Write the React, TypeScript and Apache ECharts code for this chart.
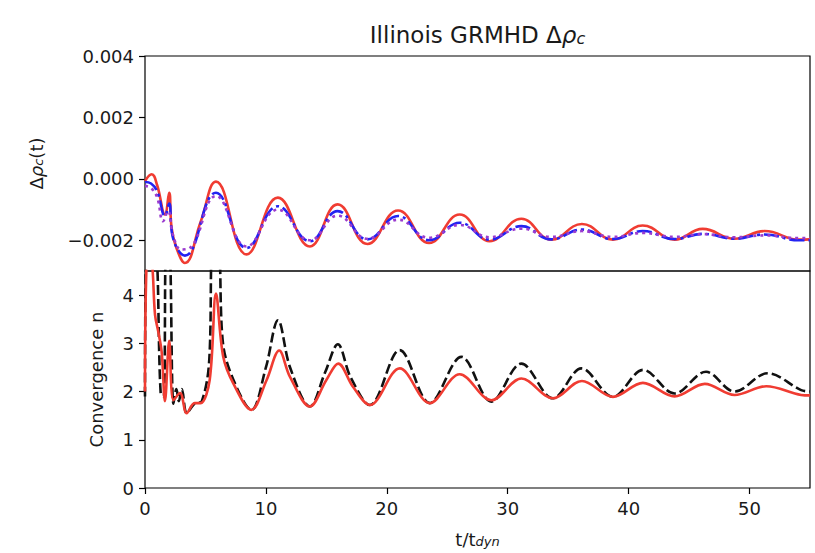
import React, { useEffect, useRef } from "react";
import * as echarts from "echarts";

// ---------- tick values ----------
const xTicks = [0, 10, 20, 30, 40, 50];
const topYTicks = [-0.002, 0, 0.002, 0.004];
const bottomYTicks = [0, 1, 2, 3, 4];

// ---------- top panel: Δρc(t) ----------
const redTopT = [0, 0.55, 1.0, 1.65, 2.0, 2.2, 2.6, 3.3, 4.6, 5.87, 8.4, 10.99, 13.64, 15.93, 18.4, 20.93, 23.5, 26.03, 28.5, 31.13, 33.6, 36.14, 38.7, 41.16, 43.8, 46.12, 48.76, 51.24, 54.1, 55];
const redTopV = [-0.00007, 0.00015, -0.0002, -0.00116, -0.00045, -0.0016, -0.00225, -0.00274, -0.0014, -0.00009, -0.00246, -0.00061, -0.0022, -0.00083, -0.00212, -0.00103, -0.00209, -0.00116, -0.00203, -0.0013, -0.00198, -0.00147, -0.00198, -0.00152, -0.00198, -0.00163, -0.00195, -0.0017, -0.00198, -0.00197];

const blueTopT = [0, 0.5, 1.0, 1.65, 2.0, 2.3, 3.3, 5.87, 8.4, 10.99, 13.64, 15.93, 18.4, 20.93, 23.5, 26.03, 28.5, 31.13, 33.6, 36.14, 38.7, 41.16, 43.8, 46.12, 48.76, 51.24, 54.1, 55];
const blueTopV = [-0.0001, -0.00015, -0.0004, -0.0012, -0.0008, -0.0019, -0.0025, -0.00045, -0.00225, -0.00089, -0.00203, -0.00105, -0.00197, -0.00121, -0.002, -0.00143, -0.00198, -0.00154, -0.00197, -0.00165, -0.00196, -0.0017, -0.00196, -0.00179, -0.00195, -0.00181, -0.002, -0.002];

const purpleTopT = [0, 0.5, 1.0, 1.5, 1.9, 2.35, 3.0, 3.7, 5.87, 8.4, 10.99, 13.64, 15.93, 18.4, 20.93, 23.5, 26.03, 28.5, 31.13, 33.6, 36.14, 38.7, 41.16, 43.8, 46.12, 48.76, 51.24, 54.1, 55];
const purpleTopV = [-0.00023, -0.0003, -0.0006, -0.00138, -0.00105, -0.00187, -0.0023, -0.00225, -0.00056, -0.0022, -0.001, -0.002, -0.0012, -0.00195, -0.00133, -0.00192, -0.0015, -0.0019, -0.00162, -0.00189, -0.0017, -0.00189, -0.00176, -0.00189, -0.0018, -0.0019, -0.00184, -0.00193, -0.00193];

// ---------- bottom panel: convergence order n ----------
const redBotT = [0, 0.15, 0.45, 0.64, 0.83, 1.1, 1.38, 1.65, 2.0, 2.35, 2.9, 3.45, 4.1, 4.6, 5.35, 5.87, 6.47, 7.3, 8.8, 10.06, 11.1, 11.98, 13.64, 15.0, 15.98, 17.2, 18.6, 21.07, 23.55, 26.03, 28.65, 31.13, 33.74, 36.14, 38.7, 41.18, 43.8, 46.3, 48.76, 51.38, 54.27, 55];
const redBotV = [2.0, 4.8, 5.0, 4.48, 3.59, 3.24, 2.82, 1.8, 3.05, 1.82, 1.97, 1.55, 1.76, 1.76, 2.24, 4.03, 2.72, 2.17, 1.62, 2.24, 2.85, 2.31, 1.69, 2.24, 2.58, 2.1, 1.72, 2.48, 1.76, 2.36, 1.82, 2.27, 1.86, 2.22, 1.89, 2.18, 1.9, 2.16, 1.93, 2.11, 1.93, 1.92];

const blackBotT = [0, 0.15, 0.8, 1.3, 1.55, 1.75, 2.0, 2.35, 2.6, 2.8, 3.05, 3.45, 4.1, 4.7, 5.3, 5.6, 6.05, 6.45, 7.3, 8.8, 10.0, 11.0, 12.0, 13.64, 14.9, 15.95, 17.0, 18.6, 21.07, 23.55, 26.17, 28.65, 31.13, 33.74, 36.1, 38.7, 41.2, 43.8, 46.4, 48.76, 51.5, 54.27, 55];
const blackBotV = [1.9, 5.0, 5.0, 1.95, 1.9, 5.0, 5.0, 1.75, 2.05, 1.8, 2.05, 1.55, 1.75, 1.8, 2.6, 5.0, 5.0, 3.0, 2.25, 1.62, 2.5, 3.48, 2.5, 1.69, 2.4, 2.98, 2.3, 1.72, 2.86, 1.76, 2.72, 1.79, 2.58, 1.86, 2.48, 1.89, 2.45, 1.96, 2.41, 2.0, 2.38, 2.03, 2.0];

const pairs = (t: number[], v: number[]) => t.map((x, i) => [x, v[i]]);

const FONT = "DejaVu Sans";
const TXT = "#1a1a1a";

export default function App() {
  const ref = useRef<HTMLDivElement>(null);

  useEffect(() => {
    document.body.style.margin = "0";
    const chart = echarts.init(ref.current as HTMLDivElement, null, { renderer: "svg" });

    const tickStyle = { color: "#000", width: 1.2 };
    const labelBase = { fontFamily: FONT, fontSize: 18, color: TXT };

    const option: any = {
      animation: false,
      backgroundColor: "#ffffff",
      textStyle: { fontFamily: FONT },
      graphic: [
        {
          type: "text",
          x: 477.5,
          y: 33,
          style: {
            text: "{n|Illinois GRMHD Δ}{i|ρ}{s|c}",
            align: "center",
            verticalAlign: "middle",
            fill: TXT,
            rich: {
              n: { fontFamily: FONT, fontSize: 23, lineHeight: 26, verticalAlign: "bottom", fill: TXT },
              i: { fontFamily: FONT, fontSize: 23, fontStyle: "italic", lineHeight: 26, verticalAlign: "bottom", fill: TXT },
              s: { fontFamily: FONT, fontSize: 16, fontStyle: "italic", lineHeight: 12, verticalAlign: "bottom", fill: TXT },
            },
          },
        },
      ],
      grid: [
        { left: 145, top: 56, width: 665, height: 215, show: true, borderColor: "#000", borderWidth: 1.2, backgroundColor: "transparent" },
        { left: 145, top: 271, width: 665, height: 217, show: true, borderColor: "#000", borderWidth: 1.2, backgroundColor: "transparent" },
      ],
      xAxis: [
        {
          type: "value", gridIndex: 0, min: 0, max: 55,
          axisLine: { show: false, onZero: false },
          axisTick: { show: false },
          axisLabel: { show: false },
          splitLine: { show: false },
        },
        {
          type: "value", gridIndex: 1, min: 0, max: 55,
          axisLine: { show: false, onZero: false },
          axisTick: { show: true, length: 6, customValues: xTicks, lineStyle: tickStyle },
          axisLabel: { ...labelBase, customValues: xTicks, margin: 11, formatter: (v: number) => String(v) },
          splitLine: { show: false },
          name: "{n|t/t}{s|dyn}",
          nameLocation: "middle",
          nameGap: 39,
          nameTextStyle: {
            rich: {
              n: { fontFamily: FONT, fontSize: 18, lineHeight: 21, verticalAlign: "bottom", color: TXT },
              s: { fontFamily: FONT, fontSize: 13, fontStyle: "italic", lineHeight: 11, verticalAlign: "bottom", color: TXT },
            },
          },
        },
      ],
      yAxis: [
        {
          type: "value", gridIndex: 0, min: -0.003, max: 0.004,
          axisLine: { show: false, onZero: false },
          axisTick: { show: true, length: 6, customValues: topYTicks, lineStyle: tickStyle },
          axisLabel: {
            ...labelBase,
            customValues: topYTicks,
            margin: 11,
            formatter: (v: number) => {
              const s = Math.abs(v).toFixed(3);
              return v < -1e-9 ? "\u2212" + s : s;
            },
          },
          splitLine: { show: false },
          name: "{n|Δ}{i|ρ}{s|c}{n|(t)}",
          nameLocation: "middle",
          nameRotate: 90,
          nameGap: 100,
          nameTextStyle: {
            rich: {
              n: { fontFamily: FONT, fontSize: 18, lineHeight: 21, verticalAlign: "bottom", color: TXT },
              i: { fontFamily: FONT, fontSize: 18, fontStyle: "italic", lineHeight: 21, verticalAlign: "bottom", color: TXT },
              s: { fontFamily: FONT, fontSize: 13, fontStyle: "italic", lineHeight: 11, verticalAlign: "bottom", color: TXT },
            },
          },
        },
        {
          type: "value", gridIndex: 1, min: 0, max: 4.5,
          axisLine: { show: false, onZero: false },
          axisTick: { show: true, length: 6, customValues: bottomYTicks, lineStyle: tickStyle },
          axisLabel: { ...labelBase, customValues: bottomYTicks, margin: 11, formatter: (v: number) => String(v) },
          splitLine: { show: false },
          name: "Convergence n",
          nameLocation: "middle",
          nameRotate: 90,
          nameGap: 38,
          nameTextStyle: { fontFamily: FONT, fontSize: 18, color: TXT, lineHeight: 21 },
        },
      ],
      series: [
        {
          type: "line", xAxisIndex: 0, yAxisIndex: 0, data: pairs(redTopT, redTopV),
          showSymbol: false, smooth: 0.45, clip: true,
          lineStyle: { color: "#f03c32", width: 2.6 },
        },
        {
          type: "line", xAxisIndex: 0, yAxisIndex: 0, data: pairs(blueTopT, blueTopV),
          showSymbol: false, smooth: 0.45, clip: true,
          lineStyle: { color: "#2323f2", width: 2.6, type: [15, 4, 3, 4] },
        },
        {
          type: "line", xAxisIndex: 0, yAxisIndex: 0, data: pairs(purpleTopT, purpleTopV),
          showSymbol: false, smooth: 0.45, clip: true,
          lineStyle: { color: "#9b3ccf", width: 2.6, type: [3, 4] },
        },
        {
          type: "line", xAxisIndex: 1, yAxisIndex: 1, data: pairs(blackBotT, blackBotV),
          showSymbol: false, smooth: 0.35, clip: true,
          lineStyle: { color: "#111111", width: 2.6, type: [10, 4] },
        },
        {
          type: "line", xAxisIndex: 1, yAxisIndex: 1, data: pairs(redBotT, redBotV),
          showSymbol: false, smooth: 0.35, clip: true,
          lineStyle: { color: "#f03c32", width: 2.6 },
        },
      ],
    };

    chart.setOption(option);
    return () => chart.dispose();
  }, []);

  return (
    <div
      ref={ref}
      style={{ position: "fixed", left: 0, top: 0, width: 815, height: 553, background: "#fff" }}
    />
  );
}
